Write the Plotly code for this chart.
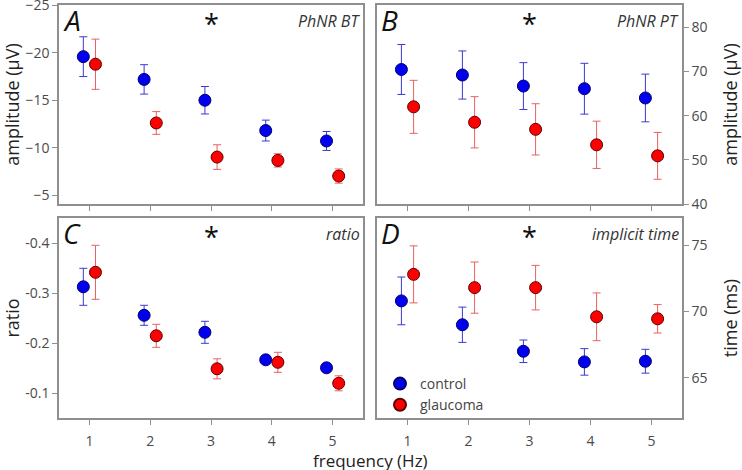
import plotly.graph_objects as go

freq = [1, 2, 3, 4, 5]
offset = 0.1

# Panel A: PhNR BT amplitude (µV)
a_ctrl = [-19.6, -17.2, -15.0, -11.8, -10.7]
a_ctrl_err = [2.1, 1.55, 1.45, 1.1, 1.0]
a_glau = [-18.8, -12.6, -9.0, -8.65, -7.0]
a_glau_err = [2.65, 1.2, 1.3, 0.7, 0.75]

# Panel B: PhNR PT amplitude (µV)
b_ctrl = [70.45, 69.2, 66.7, 66.1, 64.0]
b_ctrl_err = [5.65, 5.45, 5.3, 5.75, 5.4]
b_glau = [62.0, 58.5, 56.9, 53.4, 50.9]
b_glau_err = [6.0, 5.8, 5.8, 5.35, 5.3]

# Panel C: ratio
c_ctrl = [-0.313, -0.256, -0.222, -0.167, -0.151]
c_ctrl_err = [0.037, 0.02, 0.022, 0.006, 0.003]
c_glau = [-0.342, -0.215, -0.149, -0.162, -0.120]
c_glau_err = [0.054, 0.023, 0.02, 0.02, 0.015]

# Panel D: implicit time (ms)
d_ctrl = [70.8, 69.0, 67.0, 66.2, 66.25]
d_ctrl_err = [1.8, 1.33, 0.85, 1.0, 0.9]
d_glau = [72.8, 71.8, 71.8, 69.6, 69.45]
d_glau_err = [2.15, 1.93, 1.68, 1.8, 1.07]

names = ["control", "glaucoma"]

W, H = 742, 470
FONT = "Open Sans"
CTRL_FILL, CTRL_LINE, CTRL_ERR = "#0000ee", "#000070", "#3a3ad0"
GLAU_FILL, GLAU_LINE, GLAU_ERR = "#ff0000", "#600000", "#e86060"

fig = go.Figure()

panels = [
    ("x", "y", a_ctrl, a_ctrl_err, a_glau, a_glau_err, False),
    ("x2", "y2", b_ctrl, b_ctrl_err, b_glau, b_glau_err, False),
    ("x3", "y3", c_ctrl, c_ctrl_err, c_glau, c_glau_err, False),
    ("x4", "y4", d_ctrl, d_ctrl_err, d_glau, d_glau_err, True),
]

for xa, ya, cv, ce, gv, ge, show in panels:
    fig.add_trace(go.Scatter(
        x=[f - offset for f in freq], y=cv, mode="markers", name=names[0],
        xaxis=xa, yaxis=ya, showlegend=show,
        marker=dict(size=12, color=CTRL_FILL, line=dict(color=CTRL_LINE, width=1)),
        error_y=dict(type="data", array=ce, visible=True, color=CTRL_ERR, thickness=1, width=4),
    ))
    fig.add_trace(go.Scatter(
        x=[f + offset for f in freq], y=gv, mode="markers", name=names[1],
        xaxis=xa, yaxis=ya, showlegend=show,
        marker=dict(size=12, color=GLAU_FILL, line=dict(color=GLAU_LINE, width=1)),
        error_y=dict(type="data", array=ge, visible=True, color=GLAU_ERR, thickness=1, width=4),
    ))

xl = [59 / W, 363 / W]
xr = [377 / W, 682 / W]
yt = [1 - 204 / H, 1 - 5 / H]
yb = [1 - 418 / H, 1 - 218 / H]

axline = dict(showline=True, linecolor="#8f8f8f", linewidth=1.5, mirror=True,
              showgrid=False, zeroline=False, ticks="outside", ticklen=5,
              tickcolor="#8f8f8f", tickwidth=1, ticklabeloverflow="allow",
              automargin=False,
              tickfont=dict(family=FONT, size=14, color="#4a4a4a"))

def xaxis(domain, anchor, labels):
    d = dict(axline)
    d.update(domain=domain, anchor=anchor, range=[0.5, 5.5], tickvals=freq,
             showticklabels=labels, ticklabelstandoff=4)
    return d

def yaxis(domain, anchor, rng, tv, side, title, tt=None, standoff=4):
    d = dict(axline)
    d.update(domain=domain, anchor=anchor, range=rng, tickvals=tv, side=side,
             title=dict(text=title, font=dict(family=FONT, size=18, color="#222222"),
                        standoff=standoff))
    if tt is not None:
        d["ticktext"] = tt
    return d

fig.update_layout(
    template="none",
    width=W, height=H,
    margin=dict(l=0, r=0, t=0, b=0, pad=0),
    paper_bgcolor="white", plot_bgcolor="white",
    font=dict(family=FONT, color="#333333"),
    xaxis=xaxis(xl, "y", False),
    xaxis2=xaxis(xr, "y2", False),
    xaxis3=xaxis(xl, "y3", True),
    xaxis4=xaxis(xr, "y4", True),
    yaxis=yaxis(yt, "x", [-4.05, -25.05], [-25, -20, -15, -10, -5], "left", "amplitude (µV)"),
    yaxis2=yaxis(yt, "x2", [40, 85.05], [40, 50, 60, 70, 80], "right", "amplitude (µV)",
                 standoff=18),
    yaxis3=yaxis(yb, "x3", [-0.0506, -0.4506], [-0.4, -0.3, -0.2, -0.1], "left", "ratio",
                 ["-0.4", "-0.3", "-0.2", "-0.1"]),
    yaxis4=yaxis(yb, "x4", [61.97, 77.05], [65, 70, 75], "right", "time (ms)", standoff=18),
    legend=dict(x=380 / W, y=1 - 368 / H, xanchor="left", yanchor="top",
                bgcolor="rgba(0,0,0,0)", font=dict(family=FONT, size=14, color="#444444"),
                tracegroupgap=0, itemsizing="constant", borderwidth=0),
    showlegend=True,
)

letters = [("A", "x", "y", "PhNR BT"), ("B", "x2", "y2", "PhNR PT"),
           ("C", "x3", "y3", "ratio"), ("D", "x4", "y4", "implicit time")]
for letter, xa, ya, label in letters:
    fig.add_annotation(text=f"<i>{letter}</i>", xref=f"{xa} domain", yref=f"{ya} domain",
                       x=0.008, y=1.03, xanchor="left", yanchor="top", showarrow=False,
                       font=dict(family=FONT, size=28, color="#111111"))
    fig.add_annotation(text=f"<i>{label}</i>", xref=f"{xa} domain", yref=f"{ya} domain",
                       x=0.998, y=0.985, xanchor="right", yanchor="top", showarrow=False,
                       font=dict(family=FONT, size=16, color="#333333"))
    fig.add_annotation(text="*", xref=xa, yref=f"{ya} domain",
                       x=3, y=1.01, xanchor="center", yanchor="top", showarrow=False,
                       font=dict(family=FONT, size=27, color="#111111"))

fig.add_annotation(text="frequency (Hz)", xref="paper", yref="paper",
                   x=(59 + 682) / 2 / W, y=1 - 460 / H, xanchor="center", yanchor="middle",
                   showarrow=False, font=dict(family=FONT, size=17, color="#222222"))

fig.write_html("out.html", config={"displayModeBar": False},
               post_script="document.body.style.margin='0';document.body.style.overflow='hidden';")
